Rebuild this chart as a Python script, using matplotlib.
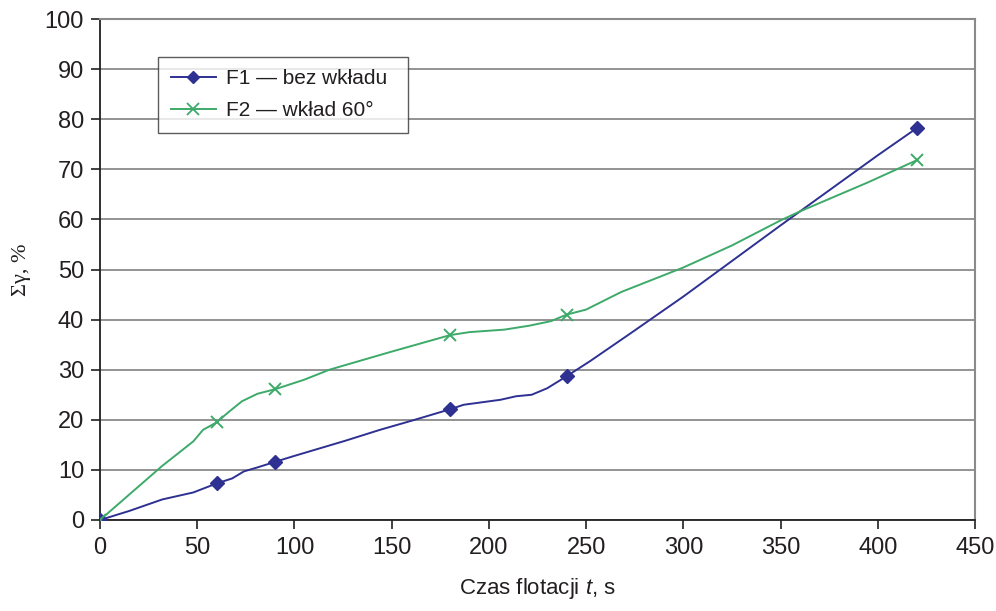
import matplotlib
matplotlib.use("Agg")
import matplotlib.pyplot as plt

# Marker data points
time_markers = [0, 60, 90, 180, 240, 420]
f1_markers = [0, 7.3, 11.6, 22.1, 28.7, 78.2]
f2_markers = [0, 19.5, 26.1, 36.9, 41.0, 71.8]

# Curve points
f1_curve_t = [0, 15, 32, 48, 60, 68, 74, 81, 90, 100, 126, 144, 161, 180, 187,
              206, 214, 222, 230, 240, 252, 273, 300, 350, 400, 420]
f1_curve_v = [0, 1.8, 4.1, 5.5, 7.3, 8.3, 9.7, 10.5, 11.6, 12.8, 15.8, 18.0, 19.9,
              22.1, 23.0, 24.0, 24.7, 25.0, 26.3, 28.7, 31.7, 37.3, 44.6, 58.8, 72.8, 78.2]
f2_curve_t = [0, 32, 48, 53, 60, 66, 73, 81, 90, 105, 118, 149, 180, 190, 208,
              221, 232, 240, 250, 268, 300, 325, 350, 360, 395, 420]
f2_curve_v = [0, 10.8, 15.7, 18.0, 19.5, 21.5, 23.7, 25.2, 26.1, 28.0, 30.0, 33.5,
              36.9, 37.5, 38.0, 38.8, 39.7, 41.0, 42.0, 45.5, 50.4, 54.8, 59.8, 61.6,
              67.4, 71.8]

series_labels = ["F1 — bez wkładu", "F2 — wkład 60°"]
x_ticks = [0, 50, 100, 150, 200, 250, 300, 350, 400, 450]
y_ticks = [0, 10, 20, 30, 40, 50, 60, 70, 80, 90, 100]

c1 = "#2E3192"
c2 = "#3DAA6A"
txt = "#231F20"
grid_c = "#8A8A8A"

plt.rcParams['font.family'] = ['Liberation Sans', 'DejaVu Sans']
plt.rcParams['mathtext.fontset'] = 'custom'
plt.rcParams['mathtext.rm'] = 'Liberation Sans'
plt.rcParams['mathtext.it'] = 'Liberation Sans:italic'

fig = plt.figure(figsize=(9.96, 6.11), dpi=100)
ax = fig.add_axes([100/996, 1 - 520/611, 875/996, 501/611])

ax.plot(f1_curve_t, f1_curve_v, color=c1, lw=1.4, zorder=3)
ax.plot(f2_curve_t, f2_curve_v, color=c2, lw=1.4, zorder=3)
ax.plot(time_markers, f1_markers, ls='none', marker='D', ms=7.5, color=c1, zorder=4)
ax.plot(time_markers, f2_markers, ls='none', marker='x', ms=9, mew=1.4, color=c2, zorder=5)

# legend proxies
h1, = ax.plot([], [], color=c1, lw=1.4, marker='D', ms=6)
h2, = ax.plot([], [], color=c2, lw=1.4, marker='x', ms=8, mew=1.3)

ax.set_xlim(0, 450)
ax.set_ylim(0, 100)
ax.set_xticks(x_ticks)
ax.set_yticks(y_ticks)
ax.tick_params(axis='both', labelsize=17, colors=txt, length=6.5, width=1.2, direction='out')
ax.tick_params(axis='x', pad=6)
ax.tick_params(axis='y', pad=5)

ax.yaxis.grid(True, color=grid_c, lw=1.3)
ax.set_axisbelow(True)

for s in ['left', 'bottom']:
    ax.spines[s].set_color(txt)
    ax.spines[s].set_linewidth(1.3)
for s in ['right', 'top']:
    ax.spines[s].set_color(grid_c)
    ax.spines[s].set_linewidth(1.5)

ax.set_xlabel("Czas flotacji $t$, s", fontsize=16, color=txt, labelpad=12)
ax.set_ylabel("Σγ, %", fontsize=16, color=txt, family='Liberation Serif', labelpad=10)

x0 = (158 - 100) / 875
y1 = (520 - 57) / 501
w = (408 - 158) / 875
h = (132 - 57) / 501
leg = ax.legend([h1, h2], series_labels, loc='upper left',
                bbox_to_anchor=(x0, y1 - h, w, h), mode='expand',
                borderaxespad=0, fontsize=15, frameon=True, fancybox=False,
                edgecolor='#333333', handlelength=2.2, handletextpad=0.45,
                borderpad=0.6, labelspacing=0.6, labelcolor=txt)
leg.get_frame().set_linewidth(1.0)

fig.savefig("out.png", dpi=100)
